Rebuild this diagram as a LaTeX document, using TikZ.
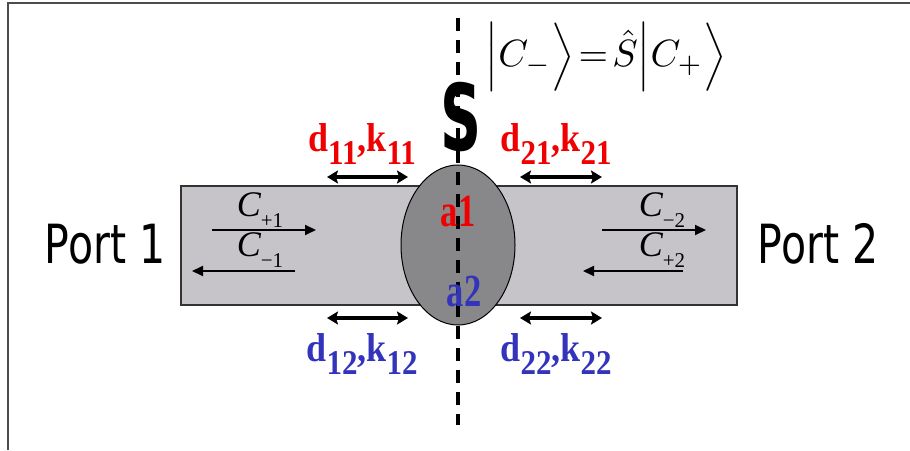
\documentclass[tikz,border=0pt]{standalone}
\usepackage{fontspec}
\setmainfont{Liberation Serif}
\newfontfamily\portfont{DejaVu Sans}
\usepackage{xcolor}
\usetikzlibrary{arrows.meta,shapes.geometric}

\definecolor{labred}{RGB}{240,0,0}
\definecolor{labblue}{RGB}{51,51,187}
\definecolor{guidegray}{RGB}{198,196,200}
\definecolor{scatgray}{RGB}{136,136,138}

\newcommand\lowsub[1]{\raisebox{-.34em}{\fontsize{31}{31}\selectfont #1}}
\newcommand\dklab[1]{d\lowsub{#1},k\lowsub{#1}}
\newcommand\csub[2]{{\itshape C}\raisebox{-.3em}{\fontsize{21}{21}\selectfont #1}}

\begin{document}
\begin{tikzpicture}[
x=1pt,y=1pt,
guide/.style={draw=black!80,line width=1.2pt,fill=guidegray,minimum width=556pt,minimum height=119pt},
scat/.style={ellipse,draw=black,line width=1pt,fill=scatgray,minimum width=114pt,minimum height=160pt},
cut/.style={line width=3.6pt,dash pattern=on 13pt off 9pt},
wave/.style={-{Triangle[length=11pt,width=10pt]},line width=2pt},
span/.style={{Stealth[length=11pt,width=13pt,inset=2pt]}-{Stealth[length=11pt,width=13pt,inset=2pt]},line width=3.6pt},
port/.style={font=\portfont\fontsize{54}{54}\selectfont,xscale=.76,transform shape},
dk/.style={font=\bfseries\fontsize{36}{36}\selectfont,yscale=1.12,transform shape,inner sep=0pt},
amp/.style={font=\bfseries\fontsize{46}{46}\selectfont,xscale=.75,transform shape,inner sep=0pt},
clab/.style={font=\fontsize{36}{36}\selectfont,inner sep=0pt}
]
\useasboundingbox (0,0) rectangle (910,450);
\draw[black!70,line width=1.2pt] (8,0) -- (8,447) -- (910,447);

\node[guide] (wg) at (459,204.5) {};
\node[scat] (sc) at (458,205) {};

\node[font=\portfont\bfseries\fontsize{92}{92}\selectfont,xscale=.62,transform shape] (S) at (461,333) {S};
\coordinate (cuttop) at (458,432);
\coordinate (cutbot) at (458,25);
\draw[cut] (cuttop) -- (cutbot);

\node[scale=3.8,transform shape,inner sep=0pt] (eq) at (606,393) {$\Bigl|C_-\Bigr\rangle\!=\!\hat S\Bigl|C_+\Bigr\rangle$};

\node[port] (p1) at (105,206) {Port 1};
\node[port] (p2) at (818,206) {Port 2};

% waves in the guides
\coordinate (in1a) at (212,220); \coordinate (in1b) at (316,220);
\coordinate (out1a) at (295,179); \coordinate (out1b) at (192,179);
\coordinate (out2a) at (602,220); \coordinate (out2b) at (706,220);
\coordinate (in2a) at (683,179); \coordinate (in2b) at (583,179);
\draw[wave] (in1a) -- (in1b);
\draw[wave] (out1a) -- (out1b);
\draw[wave] (out2a) -- (out2b);
\draw[wave] (in2a) -- (in2b);
\node[clab] (cp1) at (260,240) {\csub{+1}{}};
\node[clab] (cm1) at (260,200) {\csub{\textminus1}{}};
\node[clab] (cm2) at (662,240) {\csub{\textminus2}{}};
\node[clab] (cp2) at (662,200) {\csub{+2}{}};

% distances to the scatterer
\coordinate (s11a) at (327,273); \coordinate (s11b) at (408,273);
\coordinate (s21a) at (520,273); \coordinate (s21b) at (602,273);
\coordinate (s12a) at (327,132); \coordinate (s12b) at (408,132);
\coordinate (s22a) at (520,132); \coordinate (s22b) at (602,132);
\draw[span] (s11a) -- (s11b);
\draw[span] (s21a) -- (s21b);
\draw[span] (s12a) -- (s12b);
\draw[span] (s22a) -- (s22b);

\node[dk,text=labred] (d11) at (362,306) {\dklab{11}};
\node[dk,text=labred] (d21) at (556,306) {\dklab{21}};
\node[dk,text=labblue] (d12) at (362,96) {\dklab{12}};
\node[dk,text=labblue] (d22) at (556,96) {\dklab{22}};

\node[amp,text=labred] (a1) at (458,238) {a1};
\node[amp,text=labblue] (a2) at (464,159) {a2};
\end{tikzpicture}
\end{document}
